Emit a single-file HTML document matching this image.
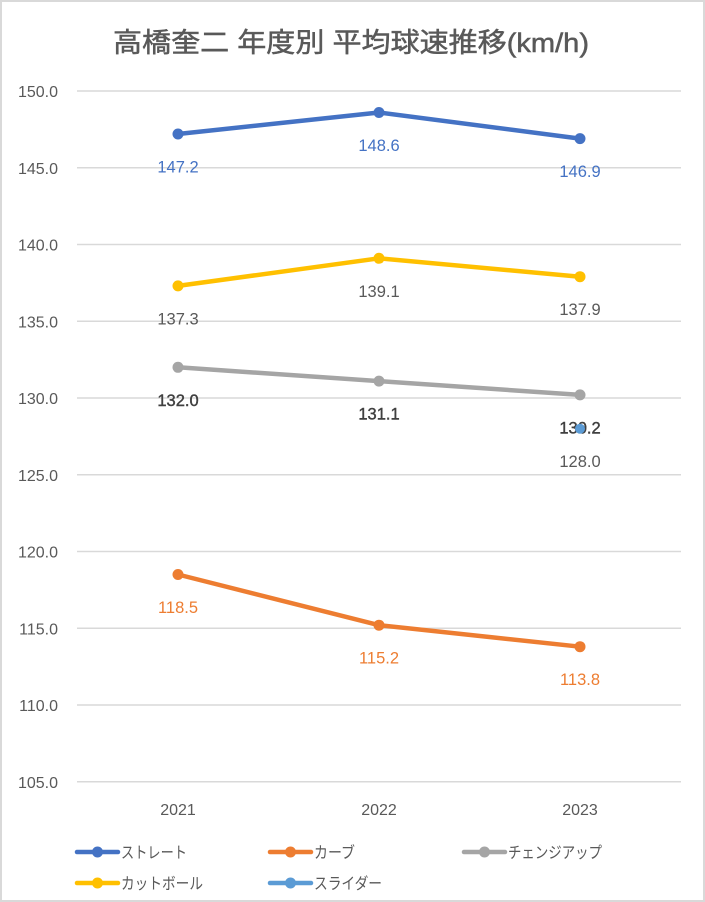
<!DOCTYPE html>
<html>
<head>
<meta charset="utf-8">
<style>
html,body{margin:0;padding:0;background:#fff;}
#c{width:705px;height:902px;position:relative;overflow:hidden;}
svg{display:block;}
</style>
</head>
<body>
<div id="c">
<svg width="705" height="902" viewBox="0 0 705 902" xmlns="http://www.w3.org/2000/svg">
  <rect x="0" y="0" width="705" height="902" fill="#fff"/>
  <rect x="1" y="1" width="703" height="900" fill="none" stroke="#d9d9d9" stroke-width="2"/>

  <!-- Title -->
  <text x="113" y="52" font-family="'Liberation Sans','Noto Sans CJK JP',sans-serif" font-size="27" fill="#595959" stroke="#595959" stroke-width="0.5" textLength="476" lengthAdjust="spacingAndGlyphs">高橋奎二 年度別 平均球速推移(km/h)</text>

  <!-- Gridlines -->
  <g stroke="#d9d9d9" stroke-width="1.5">
    <line x1="77" y1="91" x2="681" y2="91"/>
    <line x1="77" y1="167.75" x2="681" y2="167.75"/>
    <line x1="77" y1="244.5" x2="681" y2="244.5"/>
    <line x1="77" y1="321.25" x2="681" y2="321.25"/>
    <line x1="77" y1="398" x2="681" y2="398"/>
    <line x1="77" y1="474.75" x2="681" y2="474.75"/>
    <line x1="77" y1="551.5" x2="681" y2="551.5"/>
    <line x1="77" y1="628.25" x2="681" y2="628.25"/>
    <line x1="77" y1="705" x2="681" y2="705"/>
    <line x1="77" y1="781.75" x2="681" y2="781.75"/>
  </g>

  <!-- Y axis labels -->
  <g font-family="'Liberation Sans',sans-serif" font-size="16" fill="#595959" text-anchor="end">
    <text x="58" y="97">150.0</text>
    <text x="58" y="173.75">145.0</text>
    <text x="58" y="250.5">140.0</text>
    <text x="58" y="327.25">135.0</text>
    <text x="58" y="404">130.0</text>
    <text x="58" y="480.75">125.0</text>
    <text x="58" y="557.5">120.0</text>
    <text x="58" y="634.25">115.0</text>
    <text x="58" y="711">110.0</text>
    <text x="58" y="787.75">105.0</text>
  </g>

  <!-- X axis labels -->
  <g font-family="'Liberation Sans',sans-serif" font-size="16" fill="#595959" text-anchor="middle">
    <text x="178" y="815">2021</text>
    <text x="379" y="815">2022</text>
    <text x="580" y="815">2023</text>
  </g>

  <!-- Series lines -->
  <g fill="none" stroke-width="4.5" stroke-linejoin="round" stroke-linecap="round">
    <polyline stroke="#4472C4" points="178,134 379,112.5 580,138.6"/>
    <polyline stroke="#FFC000" points="178,285.9 379,258.3 580,276.7"/>
    <polyline stroke="#A5A5A5" points="178,367.3 379,381.1 580,394.9"/>
    <polyline stroke="#ED7D31" points="178,574.5 379,625.2 580,646.7"/>
  </g>

  <!-- Markers -->
  <g>
    <circle cx="178" cy="134" r="5.5" fill="#4472C4"/>
    <circle cx="379" cy="112.5" r="5.5" fill="#4472C4"/>
    <circle cx="580" cy="138.6" r="5.5" fill="#4472C4"/>
    <circle cx="178" cy="285.9" r="5.5" fill="#FFC000"/>
    <circle cx="379" cy="258.3" r="5.5" fill="#FFC000"/>
    <circle cx="580" cy="276.7" r="5.5" fill="#FFC000"/>
    <circle cx="178" cy="367.3" r="5.5" fill="#A5A5A5"/>
    <circle cx="379" cy="381.1" r="5.5" fill="#A5A5A5"/>
    <circle cx="580" cy="394.9" r="5.5" fill="#A5A5A5"/>
    <circle cx="178" cy="574.5" r="5.5" fill="#ED7D31"/>
    <circle cx="379" cy="625.2" r="5.5" fill="#ED7D31"/>
    <circle cx="580" cy="646.7" r="5.5" fill="#ED7D31"/>
  </g>

  <!-- Data labels -->
  <g font-family="'Liberation Sans',sans-serif" font-size="16.5" text-anchor="middle">
    <g fill="#4472C4">
      <text x="178" y="172.5">147.2</text>
      <text x="379" y="151">148.6</text>
      <text x="580" y="177.1">146.9</text>
    </g>
    <g fill="#595959">
      <text x="178" y="324.4">137.3</text>
      <text x="379" y="296.8">139.1</text>
      <text x="580" y="315.2">137.9</text>
      <text x="580" y="467.2">128.0</text>
    </g>
    <g fill="#404040" stroke="#404040" stroke-width="0.4">
      <text x="178" y="405.8">132.0</text>
      <text x="379" y="419.6">131.1</text>
      <text x="580" y="433.4">130.2</text>
    </g>
    <g fill="#ED7D31">
      <text x="178" y="613">118.5</text>
      <text x="379" y="663.7">115.2</text>
      <text x="580" y="685.2">113.8</text>
    </g>
  </g>

  <!-- Slider single point -->
  <circle cx="580" cy="428.7" r="5" fill="#5B9BD5"/>

  <!-- Legend -->
  <g stroke-width="4.5" stroke-linecap="round">
    <line x1="77" y1="852" x2="118" y2="852" stroke="#4472C4"/>
    <line x1="270" y1="852" x2="311" y2="852" stroke="#ED7D31"/>
    <line x1="464" y1="852" x2="505" y2="852" stroke="#A5A5A5"/>
    <line x1="77" y1="883" x2="118" y2="883" stroke="#FFC000"/>
    <line x1="270" y1="883" x2="311" y2="883" stroke="#5B9BD5"/>
  </g>
  <circle cx="97.5" cy="852" r="5.5" fill="#4472C4"/>
  <circle cx="290.5" cy="852" r="5.5" fill="#ED7D31"/>
  <circle cx="484.5" cy="852" r="5.5" fill="#A5A5A5"/>
  <circle cx="97.5" cy="883" r="5.5" fill="#FFC000"/>
  <circle cx="290.5" cy="883" r="5.5" fill="#5B9BD5"/>

  <g font-family="'Liberation Sans','Noto Sans CJK JP',sans-serif" font-size="16" fill="#595959">
    <text x="121" y="858" textLength="66" lengthAdjust="spacingAndGlyphs">ストレート</text>
    <text x="314" y="858" textLength="41" lengthAdjust="spacingAndGlyphs">カーブ</text>
    <text x="508" y="858" textLength="94" lengthAdjust="spacingAndGlyphs">チェンジアップ</text>
    <text x="121" y="889" textLength="82" lengthAdjust="spacingAndGlyphs">カットボール</text>
    <text x="314" y="889" textLength="68" lengthAdjust="spacingAndGlyphs">スライダー</text>
  </g>
</svg>
</div>
</body>
</html>
